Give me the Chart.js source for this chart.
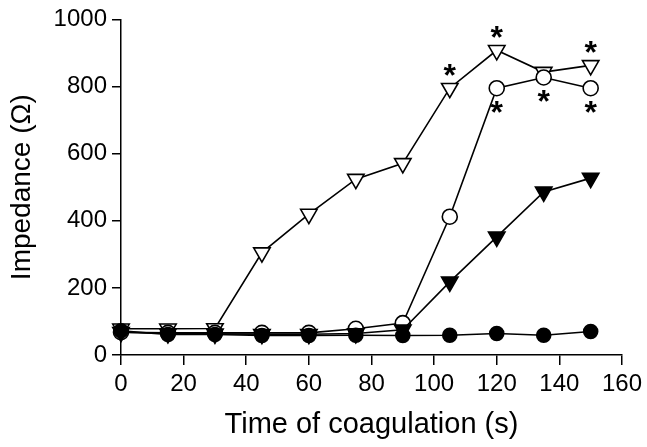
<!DOCTYPE html>
<html>
<head>
<meta charset="utf-8">
<script src="https://cdn.jsdelivr.net/npm/chart.js@4/dist/chart.umd.min.js"></script>
<style>
  html, body { margin: 0; padding: 0; background: #fff; }
  canvas { display: block; }
</style>
</head>
<body>
<canvas id="c" width="647" height="447"></canvas>
<script>
// ---- data ----
const times = [0, 15, 30, 45, 60, 75, 90, 105, 120, 135, 150];
const openTriangle   = [78, 78, 79, 305, 420, 524, 571, 795, 908, 843, 863];
const openCircle     = [68, 66, 66, 66, 66, 78, 95, 412, 795, 827, 795];
const filledTriangle = [68, 64, 63, 62, 62, 64, 75, 218, 352, 486, 527];
const filledCircle   = [72, 61, 61, 58, 58, 59, 58, 59, 64, 59, 70];
const xTicks = [0, 20, 40, 60, 80, 100, 120, 140, 160];
const yTicks = [0, 200, 400, 600, 800, 1000];
// significance asterisks: x values, and the series they belong to
const starsAboveOpenTriangle = [105, 120, 150];
const starsBelowOpenCircle = [120, 135, 150];

const FONT = "'Liberation Sans', Arial, Helvetica, sans-serif";
const toXY = arr => times.map((t, i) => ({ x: t, y: arr[i] }));

const asteriskPlugin = {
  id: 'asterisks',
  afterDatasetsDraw(chart) {
    const ctx = chart.ctx;
    const xs = chart.scales.x, ys = chart.scales.y;
    ctx.save();
    ctx.fillStyle = '#000';
    ctx.font = 'bold 32px ' + FONT;
    ctx.textAlign = 'center';
    ctx.textBaseline = 'alphabetic';
    const m = ctx.measureText('*');
    const mid = (m.actualBoundingBoxAscent - m.actualBoundingBoxDescent) / 2;
    const draw = (xv, yv, dy) => {
      const px = xs.getPixelForValue(xv);
      const py = ys.getPixelForValue(yv) + dy;
      ctx.fillText('*', px, py + mid);
    };
    starsAboveOpenTriangle.forEach(t => draw(t, openTriangle[times.indexOf(t)], -18));
    starsBelowOpenCircle.forEach(t => draw(t, openCircle[times.indexOf(t)], 19));
    ctx.restore();
  }
};

const common = {
  borderColor: '#000',
  borderWidth: 1.6,
  pointBorderColor: '#000',
  pointBorderWidth: 1.6,
  tension: 0,
  clip: false,
  fill: false
};

new Chart(document.getElementById('c'), {
  type: 'line',
  data: {
    datasets: [
      Object.assign({}, common, {
        label: 'open triangle', data: toXY(openTriangle), order: 4,
        pointStyle: 'triangle', pointRotation: 180, pointRadius: 9.5,
        pointBackgroundColor: '#fff'
      }),
      Object.assign({}, common, {
        label: 'open circle', data: toXY(openCircle), order: 3,
        pointStyle: 'circle', pointRadius: 7.5,
        pointBackgroundColor: '#fff'
      }),
      Object.assign({}, common, {
        label: 'filled triangle', data: toXY(filledTriangle), order: 2,
        pointStyle: 'triangle', pointRotation: 180, pointRadius: 9.5,
        pointBackgroundColor: '#000'
      }),
      Object.assign({}, common, {
        label: 'filled circle', data: toXY(filledCircle), order: 1,
        pointStyle: 'circle', pointRadius: 7,
        pointBackgroundColor: '#000'
      })
    ]
  },
  options: {
    responsive: false,
    animation: false,
    events: [],
    layout: { padding: { top: 19, right: 22, bottom: 3, left: 3 } },
    plugins: { legend: { display: false }, tooltip: { enabled: false } },
    scales: {
      x: {
        type: 'linear', min: 0, max: 160,
        afterBuildTicks: s => { s.ticks = xTicks.map(v => ({ value: v })); },
        afterFit: s => { s.height = 89; },
        grid: { drawOnChartArea: false, drawTicks: true, tickLength: 10, color: '#000', lineWidth: 1.5 },
        border: { display: true, color: '#000', width: 1.5 },
        ticks: { color: '#000', font: { family: FONT, size: 24 }, padding: 5, maxRotation: 0,
                 callback: v => String(v) },
        title: { display: true, text: 'Time of coagulation (s)', color: '#000',
                 font: { family: FONT, size: 29 }, padding: { top: 2, bottom: 2 } }
      },
      y: {
        type: 'linear', min: 0, max: 1000,
        afterBuildTicks: s => { s.ticks = yTicks.map(v => ({ value: v })); },
        afterFit: s => { s.width = 118; },
        grid: { drawOnChartArea: false, drawTicks: true, tickLength: 9, color: '#000', lineWidth: 1.5 },
        border: { display: true, color: '#000', width: 1.5 },
        ticks: { color: '#000', font: { family: FONT, size: 24 }, padding: 5,
                 callback: v => String(v) },
        title: { display: true, text: 'Impedance (Ω)', color: '#000',
                 font: { family: FONT, size: 28 }, padding: { top: 2, bottom: 2 } }
      }
    }
  },
  plugins: [asteriskPlugin]
});
</script>
</body>
</html>
